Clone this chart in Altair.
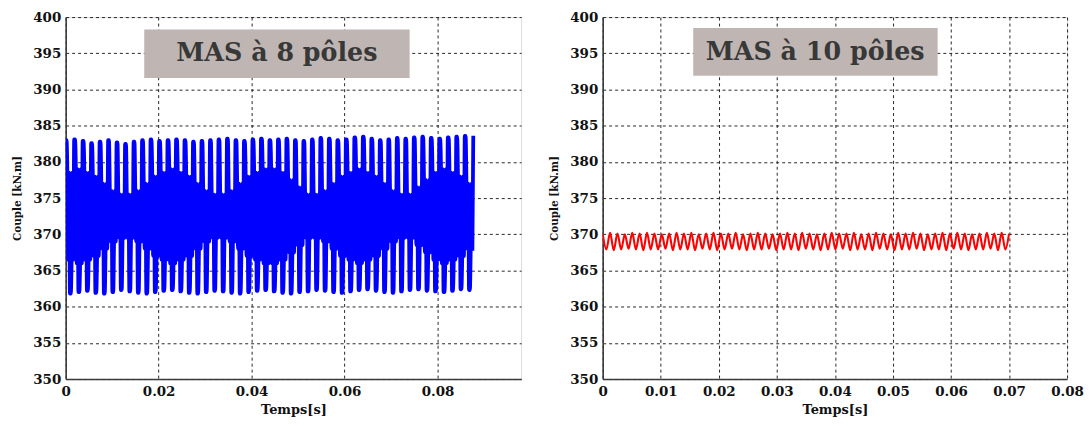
import altair as alt
import pandas as pd

# ---------------- data ----------------
# Left panel (MAS à 8 pôles): per-cycle values of the blue torque ripple
blue_max = [383.0, 383.1, 382.9, 382.6, 382.8, 383.0, 382.7, 382.5, 382.8, 383.0,
            383.1, 382.9, 383.0, 383.1, 383.0, 382.8, 382.9, 383.0, 383.1, 383.2,
            383.0, 382.9, 383.1, 383.2, 383.0, 383.1, 383.2, 383.0, 382.9, 383.1,
            383.3, 383.2, 383.0, 383.1, 383.4, 383.5, 383.2, 383.0, 383.1, 383.3,
            383.2, 383.4, 383.5, 383.3, 383.2, 383.4, 383.5, 383.6]
blue_min = [361.8, 362.0, 362.2, 361.9, 361.8, 362.0, 362.3, 362.1, 361.9, 361.8,
            362.0, 362.2, 362.3, 362.1, 361.9, 361.8, 362.0, 362.2, 362.1, 361.9,
            361.8, 362.0, 362.2, 362.3, 362.1, 361.9, 361.8, 362.0, 362.1, 362.3,
            362.2, 362.0, 361.9, 362.1, 362.3, 362.4, 362.2, 362.0, 361.9, 362.1,
            362.3, 362.4, 362.2, 362.1, 362.0, 362.2, 362.4, 362.3]
blue_band_hi = [378.5, 379, 378.5, 378, 377, 376, 375.5, 375.5, 376, 377,
                378, 378.5, 379, 378.5, 378, 377, 376, 375.5, 375.5, 376,
                377, 378, 378.5, 379, 379, 378.5, 377.5, 376.5, 375.5, 375.5,
                376, 377, 378, 378.5, 379, 378.5, 378, 377, 376, 375.5,
                375.5, 376.5, 377.5, 378.5, 379, 378.5, 378, 377]
blue_band_lo = [366.5, 366, 366.5, 367, 368, 369, 369.5, 369.5, 369, 368,
                367, 366.5, 366, 366.5, 367, 368, 369, 369.5, 369.5, 369,
                368, 367, 366.5, 366, 366, 366.5, 367.5, 368.5, 369.5, 369.5,
                369, 368, 367, 366.5, 366, 366.5, 367, 368, 369, 369.5,
                369.5, 368.5, 367.5, 366.5, 366, 366.5, 367, 368]
blue_end_time = 0.0877

# Right panel (MAS à 10 pôles): per-cycle peaks and troughs of the red torque
red_max = [370.1, 370.2, 370.1, 370.0, 370.2, 370.1, 370.2, 370.1, 370.0, 370.1,
           370.2, 370.1, 370.2, 370.0, 370.1, 370.2, 370.1, 370.1, 370.2, 370.0,
           370.1, 370.2, 370.1, 370.0, 370.1, 370.2, 370.1, 370.2, 370.1, 370.0,
           370.1, 370.2, 370.1, 370.1, 370.2, 370.0, 370.1, 370.2, 370.1, 370.0,
           370.2, 370.1, 370.2, 370.1, 370.0, 370.1, 370.2, 370.1, 370.2, 370.1,
           370.0, 370.1, 370.2, 370.1, 370.2, 370.1]
red_min = [367.9, 367.8, 367.9, 368.0, 367.9, 367.8, 367.9, 367.9, 368.0, 367.8,
           367.9, 367.9, 367.8, 368.0, 367.9, 367.8, 367.9, 368.0, 367.9, 367.8,
           367.9, 367.9, 368.0, 367.8, 367.9, 367.9, 367.8, 368.0, 367.9, 367.8,
           367.9, 367.9, 368.0, 367.8, 367.9, 367.9, 367.8, 368.0, 367.9, 367.8,
           367.9, 367.9, 368.0, 367.8, 367.9, 367.9, 367.8, 368.0, 367.9, 367.8,
           367.9, 367.9, 368.0, 367.8, 367.9]
red_end_time = 0.070

# axes
left_x_domain = [0, 0.098]
left_x_ticks = [0, 0.02, 0.04, 0.06, 0.08]
right_x_domain = [0, 0.08]
right_x_ticks = [0, 0.01, 0.02, 0.03, 0.04, 0.05, 0.06, 0.07, 0.08]
y_domain = [350, 400]
y_ticks = [350, 355, 360, 365, 370, 375, 380, 385, 390, 395, 400]

# annotation boxes (data units)
box_labels = ["MAS à 8 pôles", "MAS à 10 pôles"]
box_x1 = [0.0169, 0.0156]
box_x2 = [0.0740, 0.0577]
box_y1 = [391.6, 391.9]
box_y2 = [398.3, 398.5]
box_tx = [0.04545, 0.0366]
box_ty = [395.0, 395.2]

# ---------------- build tables ----------------
# each cycle: flat top, dense middle band crossings, flat bottom
blue_vals = []
for mx, lo, hi, mn in zip(blue_max, blue_band_lo, blue_band_hi, blue_min):
    blue_vals += [mx, mx, hi, lo, hi, mn, mn, lo, hi, lo]
blue_vals.append(blue_max[-1])
blue_dt = blue_end_time / (len(blue_vals) - 1)
blue_df = pd.DataFrame({"t": [i * blue_dt for i in range(len(blue_vals))], "c": blue_vals})

red_vals = []
for i in range(len(red_min)):
    red_vals += [red_max[i], red_min[i]]
red_vals.append(red_max[-1])
red_dt = red_end_time / (len(red_vals) - 1)
red_df = pd.DataFrame({"t": [i * red_dt for i in range(len(red_vals))], "c": red_vals})

LABEL_FONT = "DejaVu Serif"
AX_COL = "#3a3a3a"


def x_axis(ticks):
    return alt.Axis(values=ticks, format=".2~f", title="Temps[s]",
                    labelFont=LABEL_FONT, labelFontWeight="bold", labelFontSize=13.5,
                    labelColor="#111", labelPadding=6, labelOverlap=False, labelFlush=False,
                    titleFont=LABEL_FONT, titleFontWeight="bold", titleFontSize=13,
                    titleColor="#111", titlePadding=5,
                    grid=True, gridColor="#000", gridDash=[3, 3], gridWidth=1, gridOpacity=0.85,
                    ticks=False, domainColor=AX_COL, domainWidth=1.6)


def y_axis():
    return alt.Axis(values=y_ticks, format="d", title="Couple [kN.m]",
                    labelFont=LABEL_FONT, labelFontWeight="bold", labelFontSize=13.5,
                    labelColor="#111", labelPadding=5, labelOverlap=False, labelFlush=False,
                    titleFont=LABEL_FONT, titleFontWeight="bold", titleFontSize=10.5,
                    titleColor="#111", titlePadding=10,
                    grid=True, gridColor="#000", gridDash=[3, 3], gridWidth=1, gridOpacity=0.85,
                    ticks=False, domainColor=AX_COL, domainWidth=1.6)


def panel(df, color, width_line, xdom, xticks, idx, w):
    xs = alt.Scale(domain=xdom, nice=False, zero=False)
    ys = alt.Scale(domain=y_domain, nice=False, zero=False)
    xa = x_axis(xticks)
    ya = y_axis()
    line = alt.Chart(df).mark_line(color=color, strokeWidth=width_line, clip=True,
                                   interpolate="monotone").encode(
        x=alt.X("t:Q", scale=xs, axis=xa),
        y=alt.Y("c:Q", scale=ys, axis=ya),
    )
    bdf = pd.DataFrame({"x1": [box_x1[idx]], "x2": [box_x2[idx]], "y1": [box_y1[idx]],
                        "y2": [box_y2[idx]], "tx": [box_tx[idx]], "ty": [box_ty[idx]],
                        "lab": [box_labels[idx]]})
    rect = alt.Chart(bdf).mark_rect(color="#bfb6b3").encode(
        x=alt.X("x1:Q", scale=xs, axis=xa), x2="x2:Q",
        y=alt.Y("y1:Q", scale=ys, axis=ya), y2="y2:Q")
    text = alt.Chart(bdf).mark_text(font="DejaVu Serif", fontWeight="bold", fontSize=25.5,
                                    color="#383838", align="center", baseline="middle").encode(
        x=alt.X("tx:Q", scale=xs, axis=xa), y=alt.Y("ty:Q", scale=ys, axis=ya), text="lab:N")
    return alt.layer(line, rect, text).properties(width=w, height=364)


left = panel(blue_df, "#0000ff", 3.8, left_x_domain, left_x_ticks, 0, 458)
right = panel(red_df, "#ff0000", 2.1, right_x_domain, right_x_ticks, 1, 467)

chart = alt.hconcat(left, right, spacing=27).properties(
    padding={"left": 4, "top": 0, "right": 0, "bottom": 0}
).configure_view(stroke=None).configure(background="white")

chart.save("out.html", embed_options={"renderer": "svg", "actions": False})
